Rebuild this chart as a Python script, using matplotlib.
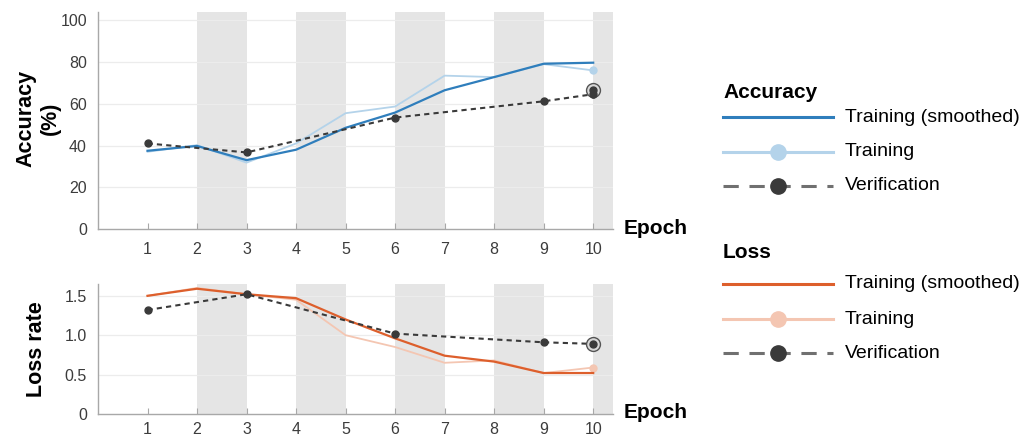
import matplotlib
matplotlib.use("Agg")
import matplotlib.pyplot as plt
from matplotlib.lines import Line2D

plt.rcParams['font.family'] = ['Liberation Sans', 'DejaVu Sans']

epochs = [1, 2, 3, 4, 5, 6, 7, 8, 9, 10]
acc_smooth = [37.5, 39.8, 33.0, 38.0, 48.5, 55.8, 66.5, 72.8, 79.2, 79.7]
acc_train = [37.0, 40.2, 31.8, 41.0, 55.5, 58.7, 73.5, 72.8, 79.0, 76.0]
val_epochs = [1, 3, 6, 9, 10]
acc_val = [41.0, 36.7, 53.4, 61.2, 64.6]
acc_final = 66.7

loss_smooth = [1.50, 1.59, 1.52, 1.47, 1.20, 0.96, 0.74, 0.665, 0.52, 0.52]
loss_train = [1.50, 1.60, 1.52, 1.45, 1.00, 0.85, 0.65, 0.68, 0.52, 0.59]
loss_val = [1.32, 1.52, 1.02, 0.91, 0.89]
loss_final = 0.89

band_starts = [2, 4, 6, 8, 10]

C_BLUE = '#2f7ebc'
C_LBLUE = '#b4d3ea'
C_ORANGE = '#dd5f2c'
C_LORANGE = '#f4c6b2'
C_VAL = '#3a3a3a'
C_BAND = '#e5e5e5'
C_TICK = '#3c3c3c'
C_SPINE = '#a8a8a8'

W, H = 1035, 437
fig = plt.figure(figsize=(W / 100, H / 100), dpi=100)

def fx(px):
    return px / W

def fy(py):
    return 1 - py / H

ax1 = fig.add_axes([fx(98), fy(229), fx(613 - 98), (229 - 12) / H])
ax2 = fig.add_axes([fx(98), fy(414), fx(613 - 98), (414 - 284) / H])

XMAX = 10.4

def style(ax, ylim, yticks, yticklabels, xpad):
    ax.set_xlim(0, XMAX)
    ax.set_ylim(*ylim)
    for s in ['top', 'right']:
        ax.spines[s].set_visible(False)
    for s in ['left', 'bottom']:
        ax.spines[s].set_color(C_SPINE)
        ax.spines[s].set_linewidth(1.0)
    for b in band_starts:
        ax.axvspan(b, min(b + 1, XMAX), color=C_BAND, lw=0, zorder=0)
    ax.set_xticks(epochs)
    ax.set_xticklabels([str(e) for e in epochs])
    ax.set_yticks(yticks)
    ax.set_yticklabels(yticklabels)
    ax.tick_params(axis='x', direction='in', length=4, color=C_SPINE,
                   labelsize=11.5, labelcolor=C_TICK, pad=xpad)
    ax.tick_params(axis='y', length=0, labelsize=11.5, labelcolor=C_TICK, pad=8)
    for t in yticks[1:]:
        ax.axhline(t, color='#ececec', lw=0.9, zorder=0.5)

style(ax1, (0, 104), [0, 20, 40, 60, 80, 100], ['0', '20', '40', '60', '80', '100'], 9)
style(ax2, (0, 1.65), [0, 0.5, 1.0, 1.5], ['0', '0.5', '1.0', '1.5'], 6)

# Accuracy
ax1.plot(epochs, acc_train, color=C_LBLUE, lw=1.3, zorder=2)
ax1.plot(epochs[-1:], acc_train[-1:], 'o', color=C_LBLUE, ms=5, zorder=2)
ax1.plot(epochs, acc_smooth, color=C_BLUE, lw=1.6, zorder=3)
ax1.plot(val_epochs, acc_val, '--', color=C_VAL, lw=1.5, dashes=(2.5, 2),
         marker='o', ms=5, zorder=4)
ax1.plot([10], [acc_final], 'o', ms=10, mfc='#d8d8d8', mec='#555555', mew=1.0, zorder=5)
ax1.plot([10], [acc_final], 'o', ms=5, color=C_VAL, zorder=6)
ax1.plot([10], [acc_val[-1]], 'o', ms=5, color=C_VAL, zorder=6)

# Loss
ax2.plot(epochs, loss_train, color=C_LORANGE, lw=1.3, zorder=2)
ax2.plot(epochs[-1:], loss_train[-1:], 'o', color=C_LORANGE, ms=5, zorder=2)
ax2.plot(epochs, loss_smooth, color=C_ORANGE, lw=1.6, zorder=3)
ax2.plot(val_epochs, loss_val, '--', color=C_VAL, lw=1.5, dashes=(2.5, 2),
         marker='o', ms=5, zorder=4)
ax2.plot([10], [loss_final], 'o', ms=10, mfc='#d8d8d8', mec='#555555', mew=1.0, zorder=5)
ax2.plot([10], [loss_final], 'o', ms=5, color=C_VAL, zorder=6)

# Axis labels
fig.text(fx(38), fy(118), 'Accuracy\n(%)', rotation=90, ha='center', va='center',
         fontsize=15.5, fontweight='bold', linespacing=1.2, multialignment='center')
fig.text(fx(36), fy(349), 'Loss rate', rotation=90, ha='center', va='center',
         fontsize=15.5, fontweight='bold')
fig.text(fx(624), fy(228), 'Epoch', ha='left', va='center', fontsize=15, fontweight='bold')
fig.text(fx(624), fy(413), 'Epoch', ha='left', va='center', fontsize=15, fontweight='bold')

# Legends (drawn manually)
def legend_block(title, ty, rows):
    fig.text(fx(723), fy(ty), title, ha='left', va='center', fontsize=15, fontweight='bold')
    for (label, y, kind, color) in rows:
        if kind == 'solid':
            fig.add_artist(Line2D([fx(723), fx(833)], [fy(y), fy(y)], color=color, lw=2.2,
                                  transform=fig.transFigure))
        elif kind == 'marker':
            fig.add_artist(Line2D([fx(723), fx(833)], [fy(y), fy(y)], color=color, lw=2.2,
                                  transform=fig.transFigure))
            fig.add_artist(Line2D([fx(778)], [fy(y)], marker='o', ms=11, color=color, lw=0,
                                  transform=fig.transFigure))
        else:
            fig.add_artist(Line2D([fx(723), fx(833)], [fy(y), fy(y)], color='#707070', lw=2.2,
                                  dashes=(5, 3.5), transform=fig.transFigure))
            fig.add_artist(Line2D([fx(778)], [fy(y)], marker='o', ms=11, color='#3a3a3a', lw=0,
                                  transform=fig.transFigure))
        fig.text(fx(845), fy(y), label, ha='left', va='center', fontsize=14)

legend_block('Accuracy', 92, [
    ('Training (smoothed)', 117, 'solid', C_BLUE),
    ('Training', 152, 'marker', C_LBLUE),
    ('Verification', 186, 'dash', C_VAL),
])
legend_block('Loss', 252, [
    ('Training (smoothed)', 284, 'solid', C_ORANGE),
    ('Training', 319, 'marker', C_LORANGE),
    ('Verification', 353, 'dash', C_VAL),
])

fig.savefig('out.png', dpi=100)
